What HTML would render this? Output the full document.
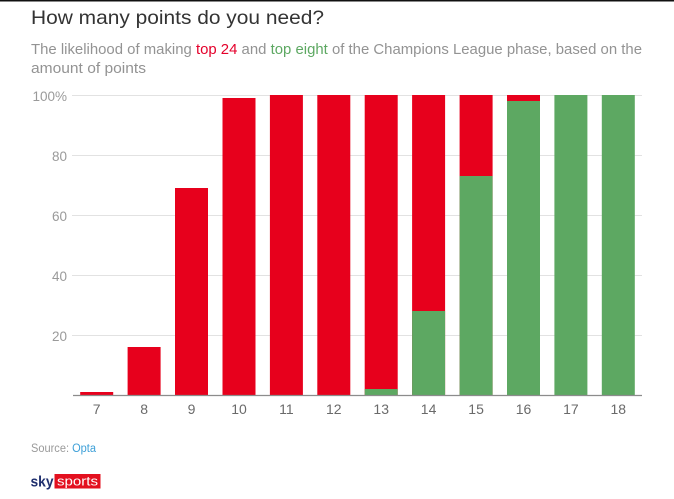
<!DOCTYPE html>
<html><head><meta charset="utf-8">
<style>
html,body{margin:0;padding:0;background:#fff;}
body{width:674px;height:499px;overflow:hidden;}
svg{display:block;font-family:"Liberation Sans",sans-serif;}
</style></head>
<body>
<svg width="674" height="499" viewBox="0 0 674 499" xmlns="http://www.w3.org/2000/svg">
<rect x="0" y="0" width="674" height="499" fill="#fff"/>
<rect x="0" y="0" width="674" height="1.5" fill="#111"/>
<text x="31" y="24" font-size="19.5" fill="#333" textLength="293" lengthAdjust="spacingAndGlyphs">How many points do you need?</text>
<text x="31" y="54" font-size="15" fill="#939393" textLength="611" lengthAdjust="spacingAndGlyphs">The likelihood of making <tspan fill="#e4002b">top 24</tspan> and <tspan fill="#5da862">top eight</tspan> of the Champions League phase, based on the</text>
<text x="31" y="73" font-size="15" fill="#939393" textLength="115" lengthAdjust="spacingAndGlyphs">amount of points</text>
<g stroke="#e2e2e2" stroke-width="1">
<line x1="72" y1="95.5" x2="642" y2="95.5"/>
<line x1="72" y1="155.5" x2="642" y2="155.5"/>
<line x1="72" y1="215.5" x2="642" y2="215.5"/>
<line x1="72" y1="275.5" x2="642" y2="275.5"/>
<line x1="72" y1="335.5" x2="642" y2="335.5"/>
</g>
<g font-size="13.5" fill="#9a9a9a" text-anchor="end">
<text x="67" y="101">100%</text>
<text x="67" y="161">80</text>
<text x="67" y="221">60</text>
<text x="67" y="281">40</text>
<text x="67" y="341">20</text>
</g>
<g fill="#e7001c">
<rect x="80.2" y="392" width="33" height="3"/>
<rect x="127.6" y="347" width="33" height="48"/>
<rect x="175.0" y="188" width="33" height="207"/>
<rect x="222.5" y="98" width="33" height="297"/>
<rect x="269.9" y="95" width="33" height="300"/>
<rect x="317.3" y="95" width="33" height="300"/>
<rect x="364.7" y="95" width="33" height="300"/>
<rect x="412.1" y="95" width="33" height="300"/>
<rect x="459.6" y="95" width="33" height="300"/>
<rect x="507.0" y="95" width="33" height="300"/>
</g>
<g fill="#5da862">
<rect x="364.7" y="389" width="33" height="6"/>
<rect x="412.1" y="311" width="33" height="84"/>
<rect x="459.6" y="176" width="33" height="219"/>
<rect x="507.0" y="101" width="33" height="294"/>
<rect x="554.4" y="95" width="33" height="300"/>
<rect x="601.8" y="95" width="33" height="300"/>
</g>
<line x1="73" y1="395.5" x2="642" y2="395.5" stroke="#8c8c8c" stroke-width="1.2"/>
<g font-size="14" fill="#6a6a6a" text-anchor="middle">
<text x="96.7" y="414">7</text>
<text x="144.1" y="414">8</text>
<text x="191.5" y="414">9</text>
<text x="239.0" y="414">10</text>
<text x="286.4" y="414">11</text>
<text x="333.8" y="414">12</text>
<text x="381.2" y="414">13</text>
<text x="428.6" y="414">14</text>
<text x="476.1" y="414">15</text>
<text x="523.5" y="414">16</text>
<text x="570.9" y="414">17</text>
<text x="618.3" y="414">18</text>
</g>
<text x="31" y="452" font-size="11.5" fill="#9a9a9a" textLength="65" lengthAdjust="spacingAndGlyphs">Source: <tspan fill="#3ea0d8">Opta</tspan></text>
<text x="30.5" y="486.5" font-size="15" font-weight="bold" fill="#1f2f6e" textLength="23" lengthAdjust="spacingAndGlyphs">sky</text>
<rect x="54.5" y="474" width="46" height="14.5" fill="#e3101f"/>
<text x="77.5" y="485.5" font-size="13" fill="#fff" text-anchor="middle" textLength="41" lengthAdjust="spacingAndGlyphs">sports</text>
</svg>
</body></html>
